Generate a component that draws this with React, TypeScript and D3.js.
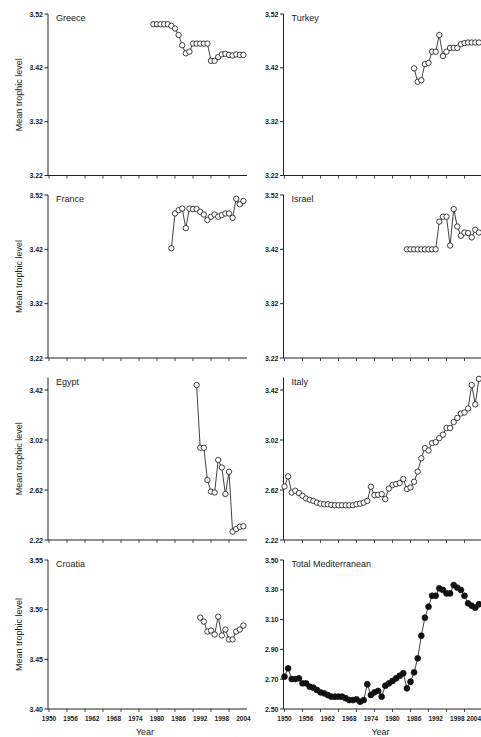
import React from "react";
import * as d3 from "d3";

// ---- data ----
const xTickLabels = [1950, 1956, 1962, 1968, 1974, 1980, 1986, 1992, 1998, 2004];
const xTickMarks = [1950, 1955, 1960, 1965, 1970, 1975, 1980, 1985, 1990, 1995, 2000];

const greeceStart = 1979;
const greece = [3.501, 3.501, 3.501, 3.501, 3.501, 3.498, 3.493, 3.481, 3.462, 3.447, 3.45, 3.465, 3.465, 3.465, 3.465, 3.465, 3.433, 3.433, 3.44, 3.445, 3.446, 3.444, 3.443, 3.445, 3.444, 3.444];

const turkeyStart = 1986;
const turkey = [3.419, 3.394, 3.397, 3.427, 3.429, 3.45, 3.45, 3.481, 3.442, 3.45, 3.457, 3.457, 3.457, 3.464, 3.466, 3.467, 3.467, 3.467, 3.467];

const franceStart = 1984;
const france = [3.422, 3.486, 3.492, 3.495, 3.459, 3.495, 3.494, 3.494, 3.489, 3.484, 3.474, 3.48, 3.484, 3.48, 3.483, 3.486, 3.486, 3.478, 3.513, 3.503, 3.509];

const israelStart = 1984;
const israel = [3.42, 3.42, 3.42, 3.42, 3.42, 3.42, 3.42, 3.42, 3.42, 3.471, 3.48, 3.48, 3.427, 3.494, 3.462, 3.445, 3.451, 3.45, 3.442, 3.456, 3.451];

const egyptStart = 1991;
const egypt = [3.46, 2.958, 2.958, 2.7, 2.607, 2.6, 2.86, 2.8, 2.588, 2.766, 2.287, 2.308, 2.326, 2.33];

const italyStart = 1950;
const italy = [2.648, 2.729, 2.6, 2.614, 2.595, 2.573, 2.552, 2.541, 2.533, 2.519, 2.511, 2.506, 2.506, 2.501, 2.498, 2.498, 2.498, 2.498, 2.498, 2.498, 2.506, 2.511, 2.519, 2.533, 2.646, 2.579, 2.582, 2.587, 2.547, 2.632, 2.66, 2.668, 2.676, 2.708, 2.627, 2.64, 2.686, 2.767, 2.874, 2.955, 2.936, 2.995, 3.003, 3.035, 3.063, 3.116, 3.116, 3.164, 3.197, 3.232, 3.24, 3.272, 3.46, 3.305, 3.509];

const croatiaStart = 1992;
const croatia = [3.492, 3.488, 3.478, 3.479, 3.475, 3.493, 3.474, 3.48, 3.47, 3.47, 3.478, 3.48, 3.484];

const totalStart = 1950;
const totalMed = [2.717, 2.773, 2.701, 2.701, 2.706, 2.672, 2.672, 2.65, 2.643, 2.628, 2.612, 2.605, 2.594, 2.583, 2.583, 2.583, 2.583, 2.572, 2.56, 2.56, 2.565, 2.549, 2.56, 2.666, 2.594, 2.612, 2.621, 2.583, 2.656, 2.672, 2.688, 2.706, 2.723, 2.74, 2.639, 2.683, 2.746, 2.84, 2.992, 3.113, 3.187, 3.26, 3.26, 3.31, 3.299, 3.276, 3.276, 3.332, 3.314, 3.299, 3.26, 3.209, 3.193, 3.18, 3.203];

const ticksA = [3.22, 3.32, 3.42, 3.52];
const ticksB = [2.22, 2.62, 3.02, 3.42];
const ticksCroatia = [3.4, 3.45, 3.5, 3.55];
const ticksTotal = [2.5, 2.7, 2.9, 3.1, 3.3, 3.5];

// ---- layout ----
const colX = [48, 283.5];
const rows = [
  [14, 175.5],
  [195, 358],
  [377.5, 540],
  [560, 709],
];
const axisLen = 198;

type Panel = {
  name: string;
  start: number;
  values: number[];
  domain: [number, number];
  ticks: number[];
  col: number;
  row: number;
  filled?: boolean;
};

const panels: Panel[] = [
  { name: "Greece", start: greeceStart, values: greece, domain: [3.22, 3.52], ticks: ticksA, col: 0, row: 0 },
  { name: "Turkey", start: turkeyStart, values: turkey, domain: [3.22, 3.52], ticks: ticksA, col: 1, row: 0 },
  { name: "France", start: franceStart, values: france, domain: [3.22, 3.52], ticks: ticksA, col: 0, row: 1 },
  { name: "Israel", start: israelStart, values: israel, domain: [3.22, 3.52], ticks: ticksA, col: 1, row: 1 },
  { name: "Egypt", start: egyptStart, values: egypt, domain: [2.22, 3.52], ticks: ticksB, col: 0, row: 2 },
  { name: "Italy", start: italyStart, values: italy, domain: [2.22, 3.52], ticks: ticksB, col: 1, row: 2 },
  { name: "Croatia", start: croatiaStart, values: croatia, domain: [3.4, 3.55], ticks: ticksCroatia, col: 0, row: 3 },
  { name: "Total Mediterranean", start: totalStart, values: totalMed, domain: [2.5, 3.5], ticks: ticksTotal, col: 1, row: 3, filled: true },
];

const font = "'Liberation Sans', Arial, sans-serif";
const ink = "#222";

function PanelView({ p }: { p: Panel }) {
  const ax = colX[p.col];
  const [top, bottom] = rows[p.row];
  const x = d3.scaleLinear().domain([1950, 2005]).range([ax + 1, ax + 1 + axisLen]);
  const y = d3.scaleLinear().domain(p.domain).range([bottom, top]);
  const pts = p.values.map((v, i) => [x(p.start + i), y(v)] as [number, number]);
  const line = d3.line()(pts) || "";
  const isBottom = p.row === 3;
  return (
    <g>
      {/* axes */}
      <line x1={ax} x2={ax} y1={top} y2={bottom} stroke={ink} strokeWidth={1} />
      <line x1={ax} x2={ax + axisLen + 1} y1={bottom} y2={bottom} stroke={ink} strokeWidth={1} />
      {p.ticks.map((t) => (
        <g key={t}>
          <line x1={ax - 3.5} x2={ax} y1={y(t)} y2={y(t)} stroke={ink} strokeWidth={1} />
          <text x={ax - 5} y={y(t) + 2.5} fontSize={7} fontWeight="bold" textAnchor="end" fill={ink} fontFamily={font}>
            {t.toFixed(2)}
          </text>
        </g>
      ))}
      {xTickMarks.map((t) => (
        <line key={t} x1={x(t)} x2={x(t)} y1={bottom} y2={bottom + 3} stroke={ink} strokeWidth={0.8} />
      ))}
      {isBottom &&
        xTickLabels.map((t, i) => {
          const last = i === xTickLabels.length - 1 && p.col === 1;
          return (
            <text
              key={t}
              x={last ? 481 : x(t)}
              y={bottom + 12}
              fontSize={6.5}
              fontWeight="bold"
              textAnchor={last ? "end" : "middle"}
              fill={ink}
              fontFamily={font}
            >
              {t}
            </text>
          );
        })}
      {isBottom && (
        <text x={ax + axisLen / 2 - 2} y={734.5} fontSize={9} textAnchor="middle" fill={ink} fontFamily={font}>
          Year
        </text>
      )}
      {p.col === 0 && (
        <text
          transform={`translate(${22},${(top + bottom) / 2}) rotate(-90)`}
          fontSize={9}
          textAnchor="middle"
          fill={ink}
          fontFamily={font}
        >
          Mean trophic level
        </text>
      )}
      <text x={ax + 8} y={top + 7} fontSize={9} fill={ink} fontFamily={font}>
        {p.name}
      </text>
      {/* data */}
      <path d={line} fill="none" stroke="#111" strokeWidth={0.8} />
      {pts.map(([cx, cy], i) => (
        <circle
          key={i}
          cx={cx}
          cy={cy}
          r={p.filled ? 2.9 : 2.7}
          fill={p.filled ? "#111" : "#fff"}
          stroke="#111"
          strokeWidth={0.8}
        />
      ))}
    </g>
  );
}

export default function App() {
  return (
    <svg
      width={481}
      height={737}
      viewBox="0 0 481 737"
      style={{ position: "absolute", left: 0, top: 0, background: "#fff" }}
    >
      <rect width={481} height={737} fill="#fff" />
      {panels.map((p) => (
        <PanelView key={p.name} p={p} />
      ))}
    </svg>
  );
}
